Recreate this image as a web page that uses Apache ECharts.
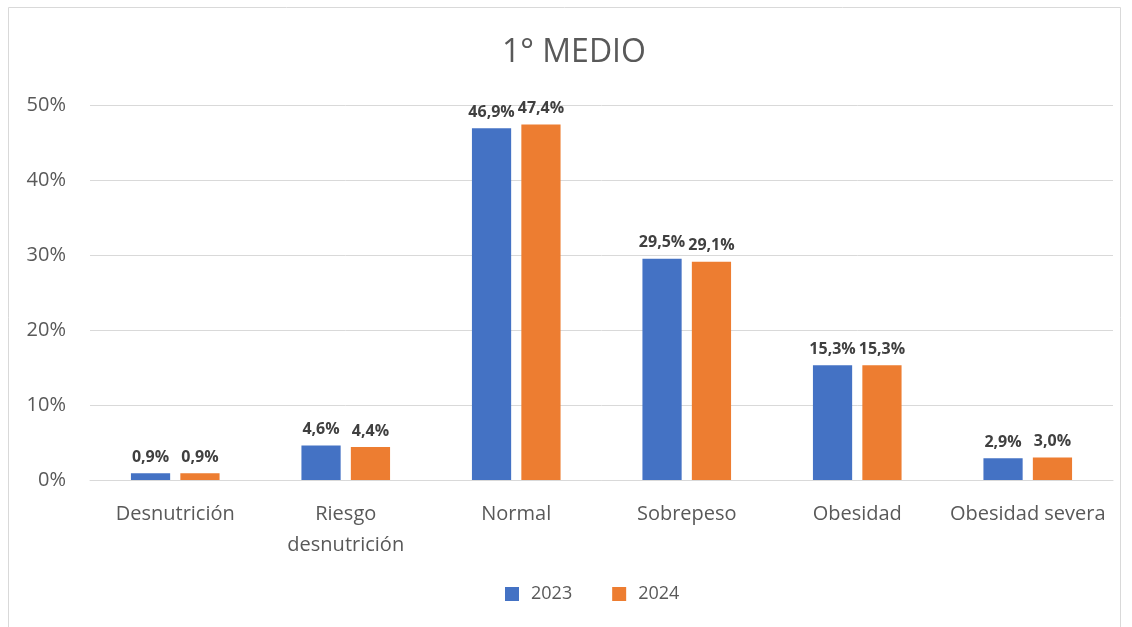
<!DOCTYPE html>
<html>
<head>
<meta charset="utf-8">
<script src="https://cdn.jsdelivr.net/npm/echarts@6/dist/echarts.min.js"></script>
<style>
  html, body { margin: 0; padding: 0; background: #fff; }
  #chart { width: 1132px; height: 627px; }
</style>
</head>
<body>
<div id="chart"></div>
<script>
const categories = ['Desnutrición', 'Riesgo\ndesnutrición', 'Normal', 'Sobrepeso', 'Obesidad', 'Obesidad severa'];
const values2023 = [0.9, 4.6, 46.9, 29.5, 15.3, 2.9];
const values2024 = [0.9, 4.4, 47.4, 29.1, 15.3, 3.0];
const yTicks = [0, 10, 20, 30, 40, 50];

const font = '"Open Sans", Lato, sans-serif';
const fmt = v => v.toFixed(1).replace('.', ',') + '%';

const chart = echarts.init(document.getElementById('chart'));

const labelStyle = {
  show: true,
  position: 'top',
  distance: 8,
  fontFamily: font,
  fontWeight: 'bold',
  fontSize: 16,
  color: '#404040',
  formatter: p => fmt(p.value)
};

chart.setOption({
  animation: false,
  graphic: [{
    type: 'rect',
    shape: { x: 8.5, y: 7.5, width: 1112, height: 640 },
    style: { fill: 'none', stroke: '#d9d9d9', lineWidth: 1 },
    silent: true
  }],
  title: {
    text: '1° MEDIO',
    left: 497,
    top: 32,
    textStyle: { fontFamily: font, fontSize: 32, fontWeight: 'normal', color: '#595959' }
  },
  legend: {
    bottom: 19,
    left: 500,
    itemWidth: 14,
    itemHeight: 14,
    itemGap: 40,
    icon: 'rect',
    textStyle: { fontFamily: font, fontSize: 18, color: '#595959', padding: [0, 0, 0, 7] },
    data: ['2023', '2024']
  },
  grid: { left: 90, right: 19, top: 105, bottom: 147 },
  xAxis: {
    type: 'category',
    data: categories,
    axisTick: { show: false },
    axisLine: { lineStyle: { color: '#d9d9d9' } },
    axisLabel: { fontFamily: font, fontSize: 20, color: '#595959', margin: 19, lineHeight: 31, interval: 0 }
  },
  yAxis: {
    type: 'value',
    min: yTicks[0],
    max: yTicks[yTicks.length - 1],
    interval: 10,
    axisLabel: { fontFamily: font, fontSize: 20, color: '#595959', margin: 24, formatter: '{value}%' },
    splitLine: { lineStyle: { color: '#d9d9d9' } },
    axisLine: { show: false },
    axisTick: { show: false }
  },
  series: [
    {
      name: '2023', type: 'bar', data: values2023,
      barWidth: '23%', barGap: '26%',
      itemStyle: { color: '#4472c4' },
      label: labelStyle
    },
    {
      name: '2024', type: 'bar', data: values2024,
      barWidth: '23%',
      itemStyle: { color: '#ed7d31' },
      label: labelStyle
    }
  ]
});
</script>
</body>
</html>
